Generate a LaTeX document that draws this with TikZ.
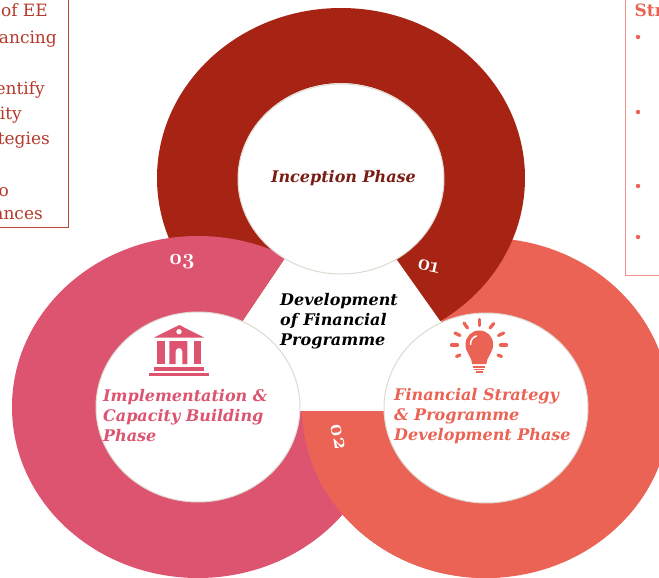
\documentclass[tikz,border=0pt]{standalone}
\usepackage{fontspec}
\setmainfont{DejaVu Serif}
\newfontfamily\numfont{Latin Modern Roman}[Numbers=OldStyle]
\definecolor{darkred}{HTML}{A72415}
\definecolor{pinkring}{HTML}{DC5470}
\definecolor{coralring}{HTML}{EB6354}
\definecolor{holeline}{HTML}{DDDAD0}
\definecolor{incept}{HTML}{7A1D14}
\definecolor{lefttext}{HTML}{B5392C}
\definecolor{leftbox}{HTML}{B8473A}
\definecolor{rightbox}{HTML}{EF9088}
\tikzset{
  hole/.style={fill=white,draw=holeline,line width=1pt},
  phase/.style={font=\fontsize{16}{20}\selectfont\bfseries\itshape,align=left,inner sep=0pt},
  num/.style={font=\fontsize{22}{22}\selectfont\bfseries\numfont,text=white,inner sep=0pt},
  frag/.style={font=\fontsize{17}{18}\selectfont,text=lefttext,inner sep=0pt,anchor=base east},
  ray/.style={draw=coralring,line width=3.2pt,line cap=round},
  bullet/.style={circle,fill=coralring,inner sep=0pt,minimum size=4.5pt}
}
\begin{document}
\begin{tikzpicture}[x=1pt,y=-1pt]
\useasboundingbox (0,0) rectangle (659,578);
\clip (0,0) rectangle (659,578);
\fill[white] (0,0) rectangle (659,578);
% frames
\draw[leftbox,line width=1pt] (-5,-5) -- (68,-5) -- (68,227) -- (-5,227);
\draw[rightbox,line width=1pt] (625,-5) -- (625,275) -- (665,275);
% coral ring (lower layer)
\begin{scope}
\clip (441,322) -- (470,230) -- (700,230) -- (700,600) -- (290,600) -- (290,411) -- (486,411) -- cycle;
\fill[coralring,even odd rule] (486,408) ellipse (184pt and 170pt) (486,408) ellipse (102pt and 95pt);
\end{scope}
% dark red ring
\begin{scope}
\clip (339,178) -- (441,322) -- (452,338) -- (600,338) -- (600,-20) -- (100,-20) -- (100,338) -- (231,338) -- cycle;
\fill[darkred,even odd rule] (341,178) ellipse (184pt and 170pt) (341,178) ellipse (103pt and 95pt);
\end{scope}
% pink ring
\begin{scope}
\clip (184.5,407) -- (301,234) -- (301,220) -- (0,220) -- (0,600) -- (400,600) -- (400,411) -- (198,411) -- cycle;
\fill[pinkring,even odd rule] (198,407) ellipse (186pt and 171pt) (198,407) ellipse (102pt and 95pt);
\end{scope}
% coral ring over pink
\begin{scope}
\clip (290,411) rectangle (500,600);
\fill[coralring,even odd rule] (486,408) ellipse (184pt and 170pt) (486,408) ellipse (102pt and 95pt);
\end{scope}
% holes
\draw[hole] (341,179) ellipse (103pt and 95pt);
\draw[hole] (198,407) ellipse (102pt and 95pt);
\draw[hole] (486,408) ellipse (102pt and 95pt);
% bank icon
\fill[pinkring,even odd rule] (179.3,325) -- (154,337.5) -- (204,337.5) -- cycle (179,331.7) circle (2.8pt);
\fill[pinkring] (157.3,341) rectangle (164.5,364);
\fill[pinkring] (194,341) rectangle (200.7,364);
\fill[pinkring] (169.3,341) -- (187.3,341) -- (187.3,364) -- (182.3,364) -- (182.3,351.3) arc (0:180:3.3pt) -- (175.7,364) -- (169.3,364) -- cycle;
\fill[pinkring] (154,367.3) rectangle (204,370.7);
\fill[pinkring] (149.3,373.3) rectangle (208.5,376.3);
% bulb icon
\fill[coralring] (472.3,364) .. controls (472,357) and (465.5,353) .. (465.5,344.5) .. controls (465.5,336.5) and (471.5,330.5) .. (479.3,330.5) .. controls (487.1,330.5) and (493.1,336.5) .. (493.1,344.5) .. controls (493.1,353) and (486.6,357) .. (486.3,364) -- cycle;
\draw[white,line width=1.5pt,line cap=round] (470.5,344.5) .. controls (470.5,340) and (473,337) .. (476.5,336);
\fill[coralring] (473.3,365.7) rectangle (485,367.5);
\fill[coralring] (474.3,368.5) rectangle (484.3,370.2);
\fill[coralring] (476,371) rectangle (482.7,372.5);
\draw[ray] (479.3,319.5) -- (479.3,325.5);
\draw[ray] (464,323) -- (467.5,328);
\draw[ray] (493.7,323.5) -- (490,328);
\draw[ray] (455,333) -- (460,335.5);
\draw[ray] (503.7,333) -- (498.5,335.5);
\draw[ray] (451.5,345) -- (457.5,345);
\draw[ray] (506.5,345) -- (500.5,345);
\draw[ray] (456.5,356.5) -- (460,355);
\draw[ray] (501.5,356.5) -- (498,355);
% ring numbers
\node[num,rotate=-12] (n1) at (428.5,266.5) {0\kern-1.5pt1};
\node[num,rotate=-80] (n2) at (338,437) {0\kern-1.5pt2};
\node[num] (n3) at (182,262) {0\kern-1.5pt3};
% phase texts
\node[phase,text=incept] (inception) at (343.5,178) {Inception Phase};
\node[phase,text=black,anchor=west] (centre) at (280,321) {Development\\of Financial\\Programme};
\node[phase,text=pinkring,anchor=west] (impl) at (103,416) {Implementation \&\\Capacity Building\\Phase};
\node[phase,text=coralring,anchor=west] (fin) at (394,416) {Financial Strategy\\\& Programme\\Development Phase};
% left box fragments
\node[frag] (l1) at (48,17) {of EE};
\node[frag] (l2) at (57,44) {ancing};
\node[frag] (l3) at (45,95) {entify};
\node[frag] (l4) at (22,119) {ity};
\node[frag] (l5) at (50,144) {tegies};
\node[frag] (l6) at (9,196) {o};
\node[frag] (l7) at (43,219) {ances};
% right box
\node[font=\fontsize{17}{17}\selectfont\bfseries,text=coralring,anchor=base west,inner sep=0pt] (st) at (634.5,17) {Str};
\node[bullet] (b1) at (638,37) {};
\node[bullet] (b2) at (638,112) {};
\node[bullet] (b3) at (638,186) {};
\node[bullet] (b4) at (638,237) {};
\end{tikzpicture}
\end{document}
